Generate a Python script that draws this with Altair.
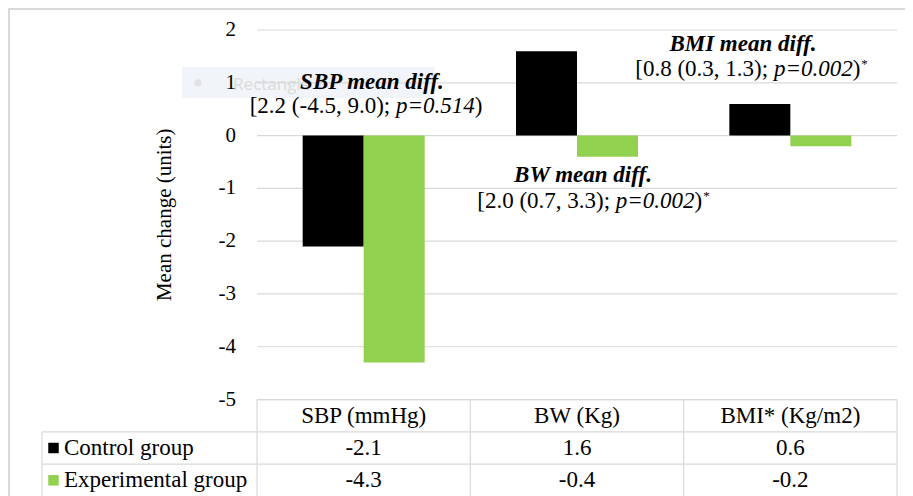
import altair as alt
import pandas as pd

# ---------------- data ----------------
categories = ["SBP (mmHg)", "BW (Kg)", "BMI* (Kg/m2)"]
groups = ["Control group", "Experimental group"]
control = [-2.1, 1.6, 0.6]
experimental = [-4.3, -0.4, -0.2]
group_colors = ["#000000", "#92d050"]
y_ticks = [2, 1, 0, -1, -2, -3, -4, -5]
y_title = "Mean change (units)"

ann_titles = ["SBP mean diff.", "BW mean diff.", "BMI mean diff."]
ann_ci = ["[2.2 (-4.5, 9.0); ", "[2.0 (0.7, 3.3); ", "[0.8 (0.3, 1.3); "]
ann_p = ["p=0.514", "p=0.002", "p=0.002"]
ann_sig = ["", "*", "*"]
# annotation anchors in (category units, value units)
ann_title_u = [0.539, 1.528, 2.278]
ann_title_v = [0.883, -0.879, 1.603]
ann_ci_u = [0.511, 1.575, 2.316]
ann_ci_v = [0.428, -1.371, 1.129]

# ---------------- layout constants ----------------
W, H = 897, 488
X_DOMAIN = [-1.1672, 3.0375]   # category units (each category = 1)
Y_DOMAIN = [-6.827, 2.417]     # value units
PX_U = W / (X_DOMAIN[1] - X_DOMAIN[0])
PX_V = H / (Y_DOMAIN[1] - Y_DOMAIN[0])
BAR_W = 61 / PX_U
ROW_H = 32.3 / PX_V
TABLE_TOP = -5
LABEL_COL = -1.008
FS = 23
GRID = "#d9d9d9"
SERIF = "'Liberation Serif', 'Times New Roman', Tinos, 'DejaVu Serif', serif"

xs = alt.Scale(domain=X_DOMAIN, nice=False, zero=False)
ys = alt.Scale(domain=Y_DOMAIN, nice=False, zero=False)


def X(f):
    return alt.X(f, type="quantitative", scale=xs, axis=None)


def Y(f):
    return alt.Y(f, type="quantitative", scale=ys, axis=None)


# ---------------- frame border ----------------
border_h = pd.DataFrame({"u": [X_DOMAIN[0]], "u2": [X_DOMAIN[1]], "v": [Y_DOMAIN[1] - 1 / PX_V]})
border_v = pd.DataFrame({"u": [X_DOMAIN[0] + 1 / PX_U], "v": [Y_DOMAIN[0]], "v2": [Y_DOMAIN[1]]})
border = alt.layer(
    alt.Chart(border_h).mark_rule(color=GRID, strokeWidth=2).encode(x=X("u"), x2="u2", y=Y("v")),
    alt.Chart(border_v).mark_rule(color=GRID, strokeWidth=2).encode(x=X("u"), y=Y("v"), y2="v2"),
)

# ---------------- ghost selection rectangle ----------------
ghost_rect = pd.DataFrame({"u": [-0.352], "u2": [0.834], "v": [1.30], "v2": [0.712]})
ghost_dot = pd.DataFrame({"u": [-0.277], "v": [0.996]})
ghost_txt = pd.DataFrame({"u": [-0.112], "v": [0.86], "t": ["Rectangle 1"]})
ghost = alt.layer(
    alt.Chart(ghost_rect).mark_rect(color="#f1f5f9").encode(x=X("u"), x2="u2", y=Y("v"), y2="v2"),
    alt.Chart(ghost_dot).mark_point(filled=True, color="#e2e2e2", size=55, opacity=1).encode(x=X("u"), y=Y("v")),
    alt.Chart(ghost_txt).mark_text(align="left", baseline="alphabetic", font="Open Sans",
                                   fontSize=17, color="#dadada").encode(x=X("u"), y=Y("v"), text="t:N"),
)

# ---------------- gridlines + y tick labels + y title ----------------
grid_df = pd.DataFrame({"v": y_ticks, "u": 0.0, "u2": float(len(categories)),
                        "lab_u": -21 / PX_U, "t": [str(t) for t in y_ticks]})
grid = alt.Chart(grid_df).mark_rule(color=GRID, strokeWidth=1.2).encode(x=X("u"), x2="u2", y=Y("v"))
ytick_labels = alt.Chart(grid_df).mark_text(font=SERIF, fontSize=21, color="black",
                                            align="right", baseline="middle").encode(
    x=X("lab_u"), y=Y("v"), text="t:N")
ytitle_df = pd.DataFrame({"u": [-92 / PX_U], "v": [(y_ticks[0] + y_ticks[-1]) / 2], "t": [y_title]})
ytitle = alt.Chart(ytitle_df).mark_text(font=SERIF, fontSize=21, color="black", angle=270,
                                        align="center", baseline="middle").encode(
    x=X("u"), y=Y("v"), text="t:N")

# ---------------- bars ----------------
rows = []
for i, c in enumerate(categories):
    for g, vals in enumerate([control, experimental]):
        center = i + 0.5
        x0 = center - BAR_W if g == 0 else center
        rows.append({"cat": c, "group": groups[g], "u": x0, "u2": x0 + BAR_W, "v": 0.0, "v2": vals[i]})
bars_df = pd.DataFrame(rows)
bars = alt.Chart(bars_df).mark_rect().encode(
    x=X("u"), x2="u2", y=Y("v"), y2="v2",
    color=alt.Color("group:N", scale=alt.Scale(domain=groups, range=group_colors), legend=None))

# ---------------- data table ----------------
n = len(categories)
row_lines = [TABLE_TOP - ROW_H * k for k in range(1, 3)]
h_lines = pd.DataFrame({"v": [TABLE_TOP] + row_lines,
                        "u": [0.0] + [LABEL_COL] * len(row_lines),
                        "u2": [float(n)] * (1 + len(row_lines))})
v_lines = pd.DataFrame({"u": [float(k) for k in range(n + 1)] + [LABEL_COL],
                        "v": [TABLE_TOP] * (n + 1) + [TABLE_TOP - ROW_H],
                        "v2": [Y_DOMAIN[0]] * (n + 2)})
table_lines = alt.layer(
    alt.Chart(h_lines).mark_rule(color=GRID, strokeWidth=1.2).encode(x=X("u"), x2="u2", y=Y("v")),
    alt.Chart(v_lines).mark_rule(color=GRID, strokeWidth=1.2).encode(x=X("u"), y=Y("v"), y2="v2"),
)

cells = []
for i, c in enumerate(categories):
    cells.append({"u": i + 0.5, "v": TABLE_TOP - ROW_H * 0.5, "t": c})
    cells.append({"u": i + 0.5, "v": TABLE_TOP - ROW_H * 1.5, "t": f"{control[i]:.1f}"})
    cells.append({"u": i + 0.5, "v": TABLE_TOP - ROW_H * 2.5, "t": f"{experimental[i]:.1f}"})
cells_df = pd.DataFrame(cells)
cell_text = alt.Chart(cells_df).mark_text(font=SERIF, fontSize=FS, color="black",
                                          align="center", baseline="middle").encode(
    x=X("u"), y=Y("v"), text="t:N")

lab_df = pd.DataFrame({"group": groups,
                       "v": [TABLE_TOP - ROW_H * 1.5, TABLE_TOP - ROW_H * 2.5],
                       "u_sq": LABEL_COL + 0.054, "u_tx": LABEL_COL + 0.103})
lab_sq = alt.Chart(lab_df).mark_point(shape="square", filled=True, size=110, opacity=1).encode(
    x=X("u_sq"), y=Y("v"),
    color=alt.Color("group:N", scale=alt.Scale(domain=groups, range=group_colors), legend=None))
lab_tx = alt.Chart(lab_df).mark_text(font=SERIF, fontSize=FS, color="black",
                                     align="left", baseline="middle").encode(
    x=X("u_tx"), y=Y("v"), text="group:N")

# ---------------- annotations ----------------
REG = {c: 0.5 for c in "0123456789*"}
REG.update({"[": 0.333, "(": 0.333, ")": 0.333, "-": 0.333, ".": 0.25, ",": 0.25, ";": 0.278, " ": 0.25})
ITA = {c: 0.5 for c in "0123456789p"}
ITA.update({"=": 0.675, ".": 0.25})
SUP_FS = 13


def width(s, table, fs):
    return sum(table.get(ch, 0.5) for ch in s) * fs


seg_normal, seg_italic, seg_sup = [], [], []
for i in range(len(ann_titles)):
    parts = [(ann_ci[i], "n"), (ann_p[i], "i"), (")", "n")]
    total = sum(width(s, REG if k == "n" else ITA, FS) for s, k in parts) + width(ann_sig[i], REG, SUP_FS)
    cur = -total / 2
    for s, k in parts:
        rec = {"u": ann_ci_u[i] + cur / PX_U, "v": ann_ci_v[i], "t": s}
        (seg_normal if k == "n" else seg_italic).append(rec)
        cur += width(s, REG if k == "n" else ITA, FS)
    if ann_sig[i]:
        seg_sup.append({"u": ann_ci_u[i] + (cur + 1) / PX_U, "v": ann_ci_v[i], "t": ann_sig[i]})

titles_df = pd.DataFrame({"u": ann_title_u, "v": ann_title_v, "t": ann_titles})
ann = alt.layer(
    alt.Chart(titles_df).mark_text(font=SERIF, fontSize=FS, fontStyle="italic", fontWeight="bold",
                                   color="black", align="center", baseline="alphabetic").encode(
        x=X("u"), y=Y("v"), text="t:N"),
    alt.Chart(pd.DataFrame(seg_normal)).mark_text(font=SERIF, fontSize=FS, color="black",
                                                  align="left", baseline="alphabetic").encode(
        x=X("u"), y=Y("v"), text="t:N"),
    alt.Chart(pd.DataFrame(seg_italic)).mark_text(font=SERIF, fontSize=FS, fontStyle="italic",
                                                  color="black", align="left",
                                                  baseline="alphabetic").encode(
        x=X("u"), y=Y("v"), text="t:N"),
    alt.Chart(pd.DataFrame(seg_sup)).mark_text(font=SERIF, fontSize=SUP_FS, color="black",
                                               align="left", baseline="alphabetic", dy=-8).encode(
        x=X("u"), y=Y("v"), text="t:N"),
)

chart = alt.layer(
    border, ghost, grid, ytick_labels, ytitle, bars, table_lines, cell_text, lab_sq, lab_tx, ann
).properties(
    width=W, height=H, autosize=alt.AutoSizeParams(type="none"), padding=0, background="white"
).configure_view(stroke=None)

chart.save("out.html", embed_options={"renderer": "svg", "actions": False})
